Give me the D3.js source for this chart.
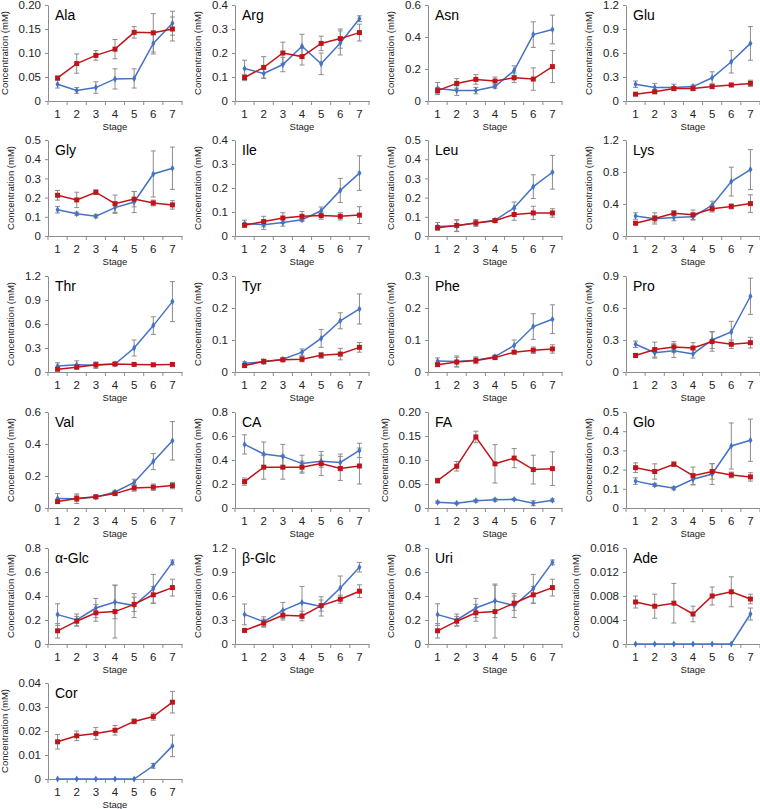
<!DOCTYPE html>
<html><head><meta charset="utf-8">
<script src="https://cdn.jsdelivr.net/npm/d3@7"></script>
<style>
body{margin:0;background:#fff;}
svg{display:block;font-family:"Liberation Sans",Arial,sans-serif;}
</style></head>
<body>
<svg id="c" width="760" height="809"></svg>
<script>
const stages = [1,2,3,4,5,6,7];
const names = ["Ala","Arg","Asn","Glu","Gly","Ile","Leu","Lys","Thr","Tyr","Phe","Pro","Val","CA","FA","Glo","α-Glc","β-Glc","Uri","Ade","Cor"];
const yMax  = [0.20,0.4,0.6,1.2,0.5,0.4,0.5,1.2,1.2,0.3,0.3,0.9,0.6,0.8,0.20,0.5,0.8,1.2,0.8,0.016,0.04];
const yStep = [0.05,0.1,0.2,0.3,0.1,0.1,0.1,0.4,0.3,0.1,0.1,0.3,0.2,0.2,0.05,0.1,0.2,0.3,0.2,0.004,0.01];
const yDec  = [2,1,1,1,1,1,1,1,1,1,1,1,1,1,2,1,1,1,1,3,2];

const blueMean = [
 [0.035,0.022,0.028,0.046,0.047,0.12,0.162],
 [0.135,0.115,0.152,0.228,0.155,0.242,0.343],
 [0.078,0.065,0.065,0.09,0.19,0.415,0.447],
 [0.21,0.17,0.17,0.18,0.29,0.49,0.72],
 [0.137,0.116,0.103,0.148,0.177,0.323,0.353],
 [0.052,0.047,0.056,0.068,0.105,0.19,0.262],
 [0.05,0.053,0.068,0.082,0.147,0.257,0.332],
 [0.25,0.215,0.23,0.24,0.385,0.68,0.83],
 [0.075,0.09,0.085,0.1,0.3,0.58,0.88],
 [0.027,0.032,0.04,0.062,0.105,0.16,0.197],
 [0.034,0.033,0.037,0.048,0.083,0.142,0.165],
 [0.26,0.18,0.2,0.17,0.3,0.375,0.71],
 [0.06,0.058,0.068,0.1,0.16,0.29,0.42],
 [0.53,0.45,0.43,0.37,0.39,0.38,0.48],
 [0.012,0.01,0.015,0.017,0.018,0.01,0.016],
 [0.14,0.12,0.103,0.15,0.177,0.323,0.353],
 [0.245,0.2,0.3,0.35,0.32,0.46,0.68],
 [0.37,0.28,0.42,0.52,0.47,0.7,0.96],
 [0.245,0.2,0.3,0.36,0.32,0.46,0.68],
 [0,0,0,0,0,0,0.005],
 [0,0,0,0,0,0.0055,0.0138]
];
const blueErr = [
 [0.008,0.006,0.012,0.021,0.02,0.022,0.025],
 [0.035,0.02,0.03,0.05,0.045,0.05,0.012],
 [0.038,0.03,0.02,0.01,0.03,0.08,0.09],
 [0.04,0.05,0.04,0.02,0.075,0.14,0.21],
 [0.017,0.008,0.008,0.03,0.055,0.12,0.11],
 [0.014,0.02,0.015,0.005,0.016,0.05,0.072],
 [0.02,0.03,0.015,0.008,0.03,0.062,0.088],
 [0.04,0.04,0.04,0.04,0.05,0.18,0.25],
 [0.04,0.05,0.04,0.02,0.1,0.11,0.25],
 [0.005,0.007,0.004,0.01,0.028,0.025,0.047],
 [0.01,0.017,0.01,0.005,0.017,0.04,0.045],
 [0.03,0.05,0.065,0.04,0.08,0.1,0.17],
 [0.03,0.03,0.01,0.01,0.02,0.05,0.12],
 [0.08,0.1,0.1,0.07,0.05,0.07,0.06],
 [0.002,0.002,0.003,0.003,0.002,0.005,0.003],
 [0.017,0.008,0.008,0.03,0.055,0.12,0.11],
 [0.09,0.05,0.08,0.14,0.1,0.12,0.02],
 [0.13,0.06,0.1,0.2,0.12,0.15,0.06],
 [0.09,0.05,0.08,0.14,0.1,0.12,0.02],
 [0,0,0,0,0,0,0.001],
 [0,0,0,0,0,0.001,0.0045]
];
const redMean = [
 [0.048,0.078,0.095,0.108,0.143,0.142,0.150],
 [0.098,0.14,0.2,0.185,0.24,0.26,0.285],
 [0.065,0.11,0.135,0.125,0.145,0.137,0.215],
 [0.085,0.115,0.155,0.155,0.18,0.2,0.22],
 [0.212,0.188,0.228,0.168,0.192,0.172,0.162],
 [0.045,0.06,0.075,0.082,0.085,0.082,0.087],
 [0.043,0.055,0.068,0.08,0.112,0.12,0.12],
 [0.16,0.22,0.285,0.265,0.34,0.37,0.405],
 [0.035,0.06,0.09,0.1,0.095,0.09,0.095],
 [0.02,0.033,0.038,0.04,0.052,0.056,0.077],
 [0.023,0.031,0.036,0.045,0.062,0.068,0.072],
 [0.155,0.21,0.235,0.225,0.285,0.26,0.275],
 [0.04,0.06,0.07,0.09,0.125,0.13,0.14],
 [0.22,0.34,0.34,0.34,0.37,0.33,0.35],
 [0.057,0.087,0.148,0.092,0.104,0.08,0.082],
 [0.21,0.19,0.228,0.168,0.19,0.172,0.162],
 [0.11,0.19,0.26,0.27,0.33,0.41,0.47],
 [0.17,0.26,0.36,0.35,0.48,0.56,0.66],
 [0.11,0.19,0.26,0.27,0.34,0.41,0.47],
 [0.007,0.0063,0.0068,0.005,0.008,0.0087,0.0075],
 [0.0155,0.018,0.019,0.0203,0.024,0.026,0.032]
];
const redErr = [
 [0.003,0.02,0.01,0.02,0.012,0.04,0.025],
 [0.013,0.045,0.045,0.035,0.03,0.04,0.035],
 [0.02,0.03,0.03,0.025,0.03,0.07,0.1],
 [0.01,0.02,0.02,0.02,0.02,0.02,0.04],
 [0.025,0.04,0.012,0.045,0.04,0.015,0.022],
 [0.008,0.022,0.022,0.02,0.015,0.015,0.035],
 [0.01,0.03,0.018,0.01,0.03,0.035,0.022],
 [0.02,0.07,0.03,0.06,0.04,0.03,0.11],
 [0.02,0.02,0.03,0.02,0.01,0.01,0.01],
 [0.005,0.007,0.004,0.008,0.009,0.018,0.015],
 [0.004,0.015,0.01,0.004,0.005,0.01,0.013],
 [0.02,0.07,0.05,0.05,0.09,0.04,0.05],
 [0.01,0.02,0.01,0.01,0.02,0.02,0.02],
 [0.03,0.1,0.1,0.05,0.1,0.1,0.15],
 [0.005,0.01,0.012,0.04,0.02,0.03,0.035],
 [0.025,0.04,0.012,0.045,0.04,0.015,0.022],
 [0.06,0.04,0.07,0.22,0.06,0.07,0.07],
 [0.02,0.05,0.06,0.06,0.07,0.05,0.08],
 [0.06,0.04,0.07,0.22,0.06,0.07,0.07],
 [0.001,0.002,0.0033,0.0013,0.0015,0.0025,0.0008],
 [0.003,0.002,0.0025,0.002,0.001,0.0015,0.0045]
];

const BLUE = "#4472C4", RED = "#C0141B", GREY = "#8C8C8C", AXIS = "#8C8C8C", TXT = "#222";
const colX = [48, 235, 428, 626];
const rowY = [5, 140, 276, 412, 548, 683];
const PW = 134, PH = 96;

const svg = d3.select("#c");

names.forEach((name, i) => {
  const col = i % 4, row = Math.floor(i / 4);
  const g = svg.append("g").attr("transform", `translate(${colX[col]},${rowY[row]})`);
  const x = d3.scaleBand().domain(stages).range([0, PW]);
  const cx = s => x(s) + x.bandwidth() / 2;
  const y = d3.scaleLinear().domain([0, yMax[i]]).range([PH, 0]);
  const ticks = d3.range(0, yMax[i] + yStep[i] / 2, yStep[i]);

  // y axis
  const ya = g.append("g").call(d3.axisLeft(y).tickValues(ticks).tickSize(3).tickSizeOuter(0).tickPadding(4)
    .tickFormat(v => Math.abs(v) < 1e-12 ? "0" : v.toFixed(yDec[i])));
  ya.select(".domain").attr("stroke", AXIS);
  ya.selectAll(".tick line").attr("stroke", AXIS);
  ya.selectAll("text").attr("font-size", 11.5).attr("fill", TXT);
  const yb = ya.node().getBBox();

  // x axis
  const xa = g.append("g").attr("transform", `translate(0,${PH})`)
    .call(d3.axisBottom(x).tickSize(0).tickSizeOuter(0).tickPadding(9.3));
  xa.select(".domain").attr("stroke", AXIS);
  xa.selectAll("text").attr("font-size", 11.5).attr("fill", TXT);
  xa.selectAll("line.bt").data(d3.range(stages.length + 1)).join("line")
    .attr("class", "bt").attr("stroke", AXIS)
    .attr("x1", k => k * x.step()).attr("x2", k => k * x.step())
    .attr("y1", 0).attr("y2", 4);

  // titles
  g.append("text").attr("x", 7).attr("y", 15).attr("font-size", 14).attr("fill", "#000").text(name);
  g.append("text").attr("transform", `translate(${yb.x - 11},${PH / 2}) rotate(-90)`)
    .attr("text-anchor", "middle").attr("font-size", 9.5).attr("fill", TXT).text("Concentration (mM)");
  g.append("text").attr("x", PW / 2).attr("y", PH + 29).attr("text-anchor", "middle")
    .attr("font-size", 9.5).attr("fill", TXT).text("Stage");

  const series = [
    {mean: blueMean[i], err: blueErr[i], color: BLUE, type: "diamond"},
    {mean: redMean[i], err: redErr[i], color: RED, type: "square"}
  ];
  // error bars
  series.forEach(s => {
    const eb = g.append("g").attr("stroke", GREY).attr("stroke-width", 1);
    stages.forEach((st, k) => {
      const e = s.err[k];
      if (!e) return;
      const m = s.mean[k];
      const y1 = y(m + e), y2 = y(Math.max(0, m - e));
      eb.append("line").attr("x1", cx(st)).attr("x2", cx(st)).attr("y1", y1).attr("y2", y2);
      eb.append("line").attr("x1", cx(st) - 2.5).attr("x2", cx(st) + 2.5).attr("y1", y1).attr("y2", y1);
      eb.append("line").attr("x1", cx(st) - 2.5).attr("x2", cx(st) + 2.5).attr("y1", y2).attr("y2", y2);
    });
  });
  // lines + markers
  series.forEach(s => {
    const line = d3.line().x((d, k) => cx(stages[k])).y(d => y(d));
    g.append("path").datum(s.mean).attr("fill", "none").attr("stroke", s.color)
      .attr("stroke-width", 1.5).attr("d", line);
    const sym = s.type === "square" ? d3.symbolSquare : d3.symbolDiamond;
    const size = s.type === "square" ? 25 : 14;
    g.append("g").selectAll("path").data(s.mean).join("path")
      .attr("transform", (d, k) => `translate(${cx(stages[k])},${y(d)})`)
      .attr("d", d3.symbol().type(sym).size(size)).attr("fill", s.color);
  });
});
</script>
</body></html>
